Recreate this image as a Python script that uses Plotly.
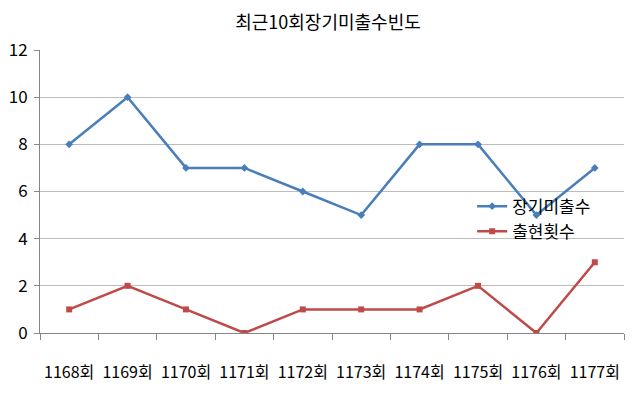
import plotly.graph_objects as go

categories = ["1168회", "1169회", "1170회", "1171회", "1172회", "1173회", "1174회", "1175회", "1176회", "1177회"]
series1_name = "장기미출수"
series1 = [8, 10, 7, 7, 6, 5, 8, 8, 5, 7]
series2_name = "출현횟수"
series2 = [1, 2, 1, 0, 1, 1, 1, 2, 0, 3]
title = "최근10회장기미출수빈도"

FONT = "Noto Sans CJK KR"

fig = go.Figure()
fig.add_trace(go.Scatter(x=categories, y=series1, name=series1_name, mode="lines+markers",
                         line=dict(color="#4a7ebb", width=2.5),
                         marker=dict(symbol="diamond", size=6, color="#4a7ebb")))
fig.add_trace(go.Scatter(x=categories, y=series2, name=series2_name, mode="lines+markers",
                         line=dict(color="#be4b48", width=2.5),
                         marker=dict(symbol="square", size=6, color="#be4b48")))

fig.update_layout(
    width=640, height=398,
    margin=dict(l=32, r=24, t=42, b=73),
    paper_bgcolor="white", plot_bgcolor="white",
    font=dict(family=FONT, size=16, color="#000000"),
    title=dict(text=title, x=0.5, xanchor="center", y=0.963, yanchor="middle",
               font=dict(family=FONT, size=18, color="#000000")),
    showlegend=True,
    legend=dict(x=0.74, y=0.51, xanchor="left", yanchor="top", bgcolor="rgba(0,0,0,0)",
                font=dict(family=FONT, size=17), tracegroupgap=0, itemwidth=30),
    xaxis=dict(type="category", range=[-0.5, 9.5], showgrid=False, automargin=False,
               showline=True, linecolor="#868686", linewidth=1, tickangle=0,
               ticks="outside", ticklen=6, tickcolor="#868686", tickson="boundaries",
               ticklabelstandoff=25,
               tickfont=dict(family=FONT, size=16)),
    yaxis=dict(range=[0, 12], dtick=2, showgrid=True, gridcolor="#bdbdbd", gridwidth=1,
               automargin=False,
               showline=True, linecolor="#868686", linewidth=1, zeroline=False,
               ticks="outside", ticklen=5, tickcolor="#868686", ticklabelstandoff=3,
               tickfont=dict(family=FONT, size=17)),
)

fig.write_html("out.html")
